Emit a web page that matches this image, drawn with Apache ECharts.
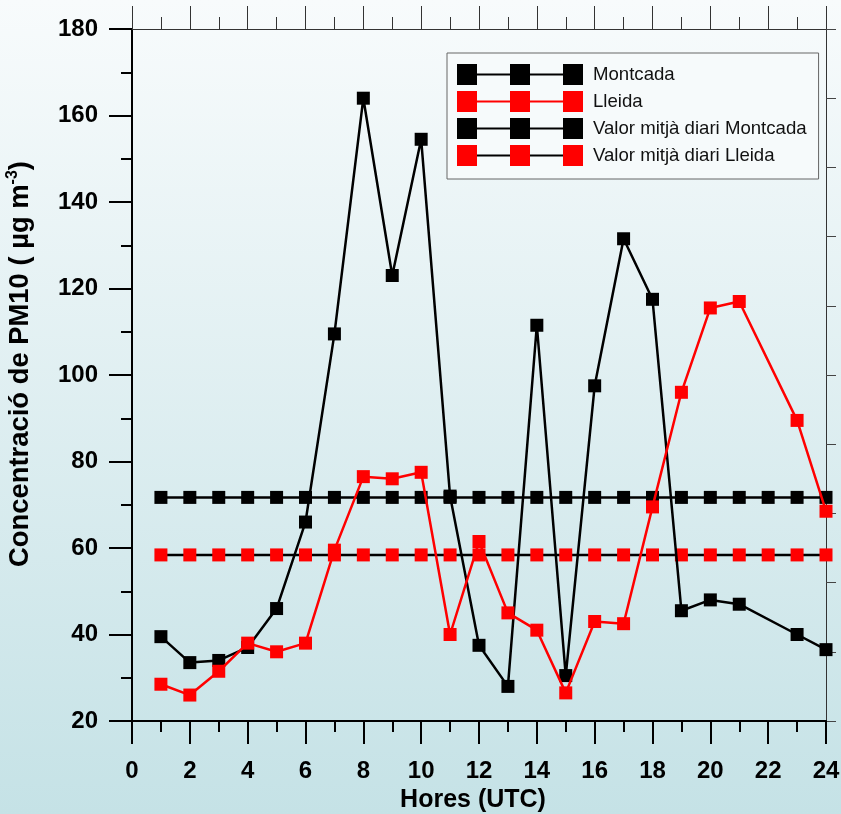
<!DOCTYPE html>
<html>
<head>
<meta charset="utf-8">
<script src="https://cdn.jsdelivr.net/npm/echarts@6/dist/echarts.min.js"></script>
<style>
html,body{margin:0;padding:0;}
#c{width:841px;height:814px;}
</style>
</head>
<body>
<div id="c"></div>
<script>
const hours = [1,2,3,4,5,6,7,8,9,10,11,12,13,14,15,16,17,18,19,20,21,22,23,24];
const montcada = [39.5,33.5,34,37,46,66,109.5,164,123,154.5,72,37.5,28,111.5,30.5,97.5,131.5,117.5,45.5,48,47,null,40,36.5];
const lleida = [28.5,26,31.5,38,36,38,59.5,76.5,76,77.5,40,61.5,45,41,26.5,43,42.5,69.5,96,115.5,117,null,89.5,68.5];
const meanMontcada = [71.7,71.7,71.7,71.7,71.7,71.7,71.7,71.7,71.7,71.7,71.7,71.7,71.7,71.7,71.7,71.7,71.7,71.7,71.7,71.7,71.7,71.7,71.7,71.7];
const meanLleida = [58.4,58.4,58.4,58.4,58.4,58.4,58.4,58.4,58.4,58.4,58.4,58.4,58.4,58.4,58.4,58.4,58.4,58.4,58.4,58.4,58.4,58.4,58.4,58.4];
const seriesNames = ['Montcada','Lleida','Valor mitjà diari Montcada','Valor mitjà diari Lleida'];
const barColors = ['#000','#ff0000','#000','#000'];

const FONT = "'Liberation Sans', Arial, Helvetica, sans-serif";
const pairs = (ys) => hours.map((h, i) => [h, ys[i]]);

const squaresPath = 'path://M0 0h20v21h-20z M53 0h20v21h-20z M106 0h20v21h-20z M131 21';
const barsPath = 'path://M0 0 M20 9.5h33v2h-33z M73 9.5h33v2h-33z M131 21';

const legendCommon = {
  orient: 'vertical', left: 447, top: 53,
  padding: [11, 12, 13, 10],
  itemWidth: 131, itemHeight: 21, itemGap: 6,
  selectedMode: false,
  itemStyle: {borderWidth: 0},
  textStyle: {fontFamily: FONT, fontSize: 18.6, lineHeight: 21}
};

const chart = echarts.init(document.getElementById('c'), null, {renderer: 'canvas'});
const option = {
  animation: false,
  backgroundColor: {type: 'linear', x: 0, y: 0, x2: 0, y2: 1,
    colorStops: [{offset: 0, color: '#f8fbfc'}, {offset: 1, color: '#c5e2e6'}]},
  grid: {left: 132, top: 29, right: 15, bottom: 93, outerBoundsMode: 'none'},
  legend: [
    Object.assign({}, legendCommon, {
      z: 5,
      backgroundColor: '#f6fafb', borderColor: '#666', borderWidth: 1,
      textStyle: Object.assign({}, legendCommon.textStyle, {color: 'rgba(0,0,0,0)'}),
      data: seriesNames.map((n, i) => ({name: n, icon: barsPath, itemStyle: {color: barColors[i], borderWidth: 0}}))
    }),
    Object.assign({}, legendCommon, {
      z: 6,
      backgroundColor: 'rgba(0,0,0,0)', borderWidth: 0,
      textStyle: Object.assign({}, legendCommon.textStyle, {color: '#111'}),
      data: seriesNames.map(n => ({name: n, icon: squaresPath}))
    })
  ],
  xAxis: [
    {
      type: 'value', position: 'bottom', min: 0, max: 24, interval: 2,
      name: 'Hores (UTC)', nameLocation: 'middle', nameGap: 64,
      nameTextStyle: {fontFamily: FONT, fontSize: 25, fontWeight: 'bold', color: '#000', padding: [0, 12, 0, 0]},
      axisLine: {show: true, onZero: false, lineStyle: {color: '#000', width: 2}},
      axisTick: {show: true, inside: false, length: 23, lineStyle: {color: '#000', width: 2}},
      minorTick: {show: true, splitNumber: 2, length: 11, lineStyle: {color: '#000', width: 2}},
      axisLabel: {fontFamily: FONT, fontSize: 24, fontWeight: 'bold', color: '#000', margin: 38},
      splitLine: {show: false}, minorSplitLine: {show: false}
    },
    {
      type: 'value', position: 'top', min: 0, max: 24, interval: 2,
      axisLine: {show: true, onZero: false, lineStyle: {color: '#333', width: 1}},
      axisTick: {show: true, inside: false, length: 23, lineStyle: {color: '#333', width: 1}},
      minorTick: {show: true, splitNumber: 2, length: 12, lineStyle: {color: '#333', width: 1}},
      axisLabel: {show: false},
      splitLine: {show: false}
    }
  ],
  yAxis: [
    {
      type: 'value', position: 'left', min: 20, max: 180, interval: 20,
      name: 'Concentració de PM10 ( µg m{sup|-3})', nameLocation: 'middle', nameGap: 96,
      nameTextStyle: {fontFamily: FONT, fontSize: 27.4, fontWeight: 'bold', color: '#000', lineHeight: 31,
        padding: [0, 0, 0, 22],
        rich: {sup: {fontFamily: FONT, fontSize: 16, fontWeight: 'bold', color: '#000', verticalAlign: 'top', lineHeight: 16}}},
      axisLine: {show: true, onZero: false, lineStyle: {color: '#000', width: 2}},
      axisTick: {show: true, inside: false, length: 23, lineStyle: {color: '#000', width: 2}},
      minorTick: {show: true, splitNumber: 2, length: 11, lineStyle: {color: '#000', width: 2}},
      axisLabel: {fontFamily: FONT, fontSize: 24, fontWeight: 'bold', color: '#000', margin: 34},
      splitLine: {show: false}, minorSplitLine: {show: false}
    },
    {
      type: 'value', position: 'right', min: 0, max: 10, interval: 1,
      axisLine: {show: true, onZero: false, lineStyle: {color: '#333', width: 1}},
      axisTick: {show: true, inside: false, length: 10, lineStyle: {color: '#444', width: 1}},
      axisLabel: {show: false},
      splitLine: {show: false}
    }
  ],
  series: [
    {
      name: 'Montcada', type: 'line', xAxisIndex: 0, yAxisIndex: 0, data: pairs(montcada),
      connectNulls: true, symbol: 'rect', symbolSize: 13,
      itemStyle: {color: '#000'}, lineStyle: {color: '#000', width: 2.5}, emphasis: {disabled: true}, z: 3
    },
    {
      name: 'Lleida', type: 'line', xAxisIndex: 0, yAxisIndex: 0, data: pairs(lleida),
      connectNulls: true, symbol: 'rect', symbolSize: 13,
      itemStyle: {color: '#ff0000'}, lineStyle: {color: '#ff0000', width: 2.5}, emphasis: {disabled: true}, z: 4
    },
    {
      name: 'Valor mitjà diari Montcada', type: 'line', xAxisIndex: 0, yAxisIndex: 0, data: pairs(meanMontcada),
      symbol: 'rect', symbolSize: 13,
      itemStyle: {color: '#000'}, lineStyle: {color: '#000', width: 2.5}, emphasis: {disabled: true}, z: 2
    },
    {
      name: 'Valor mitjà diari Lleida', type: 'line', xAxisIndex: 0, yAxisIndex: 0, data: pairs(meanLleida),
      symbol: 'rect', symbolSize: 13,
      itemStyle: {color: '#ff0000'}, lineStyle: {color: '#000', width: 2.5}, emphasis: {disabled: true}, z: 2
    }
  ]
};
chart.setOption(option);
</script>
</body>
</html>
